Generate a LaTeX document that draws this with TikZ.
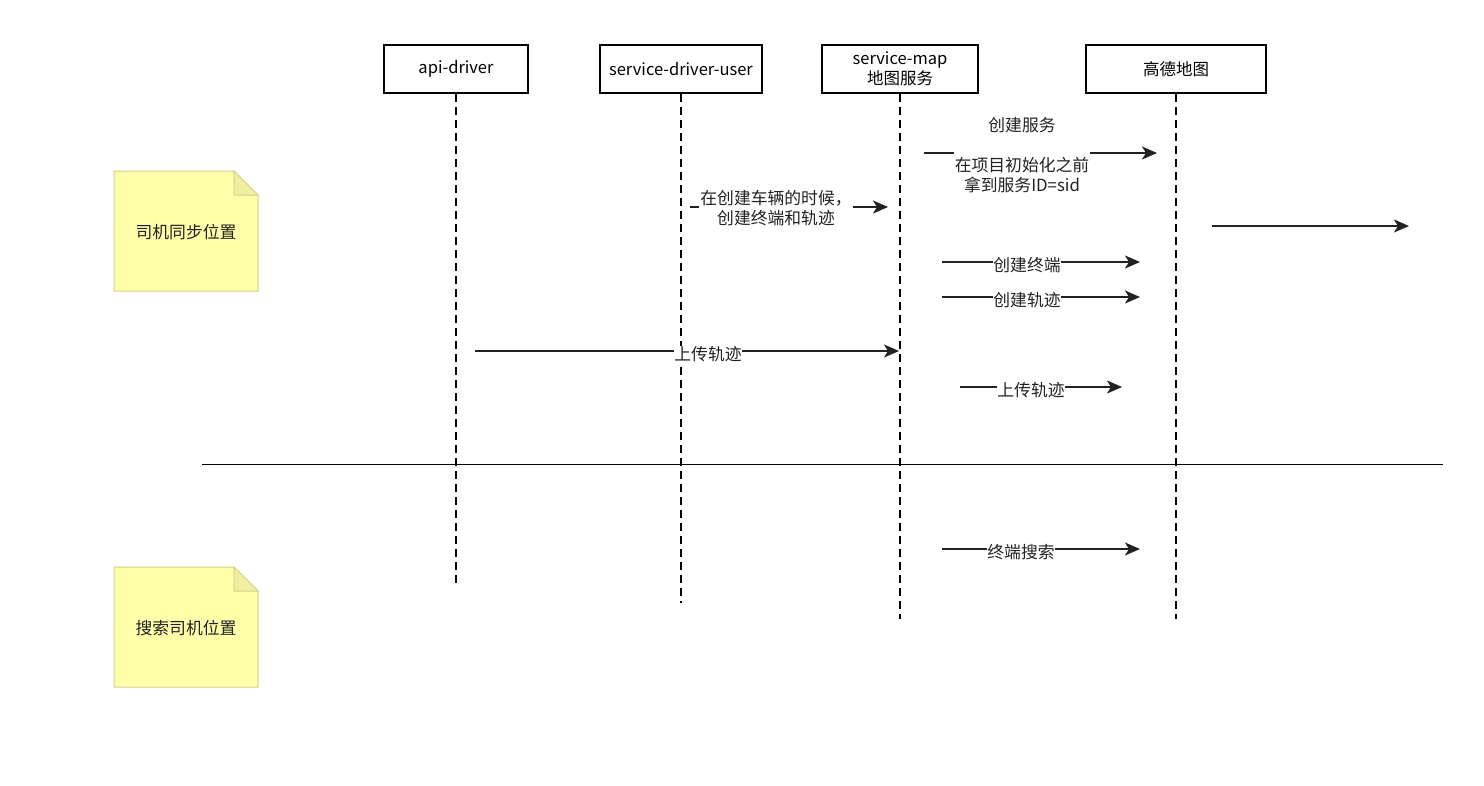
\documentclass[tikz,border=0pt]{standalone}
\usepackage{fontspec}
\setmainfont{Noto Sans CJK SC}
\usetikzlibrary{arrows.meta}
\definecolor{notefill}{HTML}{FFFFAA}
\definecolor{notedraw}{HTML}{D2D08A}
\definecolor{foldfill}{HTML}{F2EEA0}
\definecolor{ink}{HTML}{222222}
\tikzset{
  headbox/.style={draw=black, line width=2pt, fill=white, minimum height=48pt, inner sep=0pt, align=center, font=\fontsize{16.5}{20}\selectfont},
  lifeline/.style={draw=black, line width=2pt, dash pattern=on 8pt off 5pt},
  msg/.style={draw=ink, line width=2pt, -{Stealth[length=15pt, width=13pt, inset=4pt]}},
  msglabel/.style={fill=white, inner sep=1pt, align=center, font=\fontsize{16.8}{20}\selectfont, text=ink},
  notetext/.style={font=\fontsize{16.8}{20}\selectfont, text=ink}
}
\begin{document}
\begin{tikzpicture}[x=1pt,y=-1pt]
\useasboundingbox (0,0) rectangle (1484,785);
% lifeline heads
\node[headbox, minimum width=144pt] (api) at (456,69) {api-driver};
\node[headbox, minimum width=162pt] (sdu) at (681,69) {service-driver-user};
\node[headbox, minimum width=156pt] (smap) at (900,69) {service-map\\地图服务};
\node[headbox, minimum width=180pt] (amap) at (1176,69) {高德地图};
% lifeline ends
\coordinate (apiEnd) at (456,585);
\coordinate (sduEnd) at (681,603);
\coordinate (smapEnd) at (900,619);
\coordinate (amapEnd) at (1176,619);
\draw[lifeline] (api.south) -- (apiEnd);
\draw[lifeline] (sdu.south) -- (sduEnd);
\draw[lifeline] (smap.south) -- (smapEnd);
\draw[lifeline] (amap.south) -- (amapEnd);
% notes
\foreach \nm/\y/\txt in {noteA/171/司机同步位置, noteB/567/搜索司机位置}{
  \fill[notefill] (114,\y) -- (234,\y) -- (258,\y+24) -- (258,\y+120) -- (114,\y+120) -- cycle;
  \draw[notedraw, line width=1pt] (114,\y) -- (234,\y) -- (258,\y+24) -- (258,\y+120) -- (114,\y+120) -- cycle;
  \filldraw[fill=foldfill, draw=notedraw, line width=1pt] (234,\y) -- (234,\y+24) -- (258,\y+24) -- cycle;
  \node[notetext] (\nm) at (186,\y+61) {\txt};
}
% separator
\coordinate (sepL) at (202,464);
\coordinate (sepR) at (1443,464);
\draw[black, line width=1pt] (sepL) -- (sepR);
% messages
\coordinate (m1s) at (924,153); \coordinate (m1e) at (1157,153);
\draw[msg] (m1s) -- (m1e);
\node[msglabel] (l1) at (1022,155) {创建服务\\ \\在项目初始化之前\\拿到服务ID=sid};

\coordinate (m2s) at (690,207); \coordinate (m2e) at (888,207);
\draw[msg] (m2s) -- (m2e);
\node[msglabel] (l2) at (776,208) {在创建车辆的时候，\\创建终端和轨迹};

\coordinate (m3s) at (1212,226); \coordinate (m3e) at (1409,226);
\draw[msg] (m3s) -- (m3e);

\coordinate (m4s) at (942,262); \coordinate (m4e) at (1140,262);
\draw[msg] (m4s) -- (m4e);
\node[msglabel, inner sep=0pt] (l4) at (1027,265) {创建终端};

\coordinate (m5s) at (942,297); \coordinate (m5e) at (1140,297);
\draw[msg] (m5s) -- (m5e);
\node[msglabel, inner sep=0pt] (l5) at (1027,300) {创建轨迹};

\coordinate (m6s) at (475,351); \coordinate (m6e) at (899,351);
\draw[msg] (m6s) -- (m6e);
\node[msglabel, inner sep=0pt] (l6) at (708,354) {上传轨迹};

\coordinate (m7s) at (960,387); \coordinate (m7e) at (1122,387);
\draw[msg] (m7s) -- (m7e);
\node[msglabel, inner sep=0pt] (l7) at (1031,390) {上传轨迹};

\coordinate (m8s) at (942,549); \coordinate (m8e) at (1140,549);
\draw[msg] (m8s) -- (m8e);
\node[msglabel, inner sep=0pt] (l8) at (1021,552) {终端搜索};
\end{tikzpicture}
\end{document}
